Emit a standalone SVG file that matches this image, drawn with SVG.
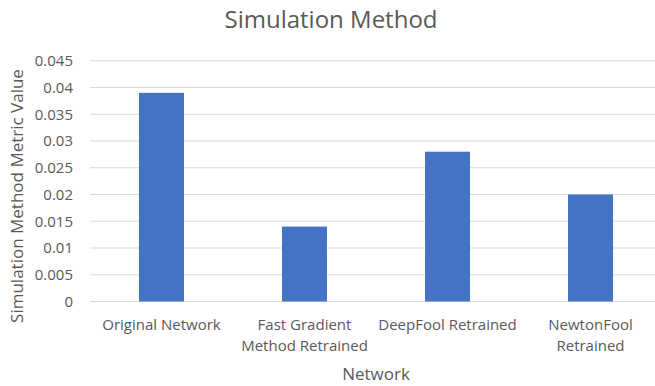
<svg xmlns="http://www.w3.org/2000/svg" width="655" height="386" viewBox="0 0 655 386">
  <style>
    text { font-family: "Open Sans", "Liberation Sans", sans-serif; fill: #595959; }
    .title { font-size: 24px; text-anchor: middle; }
    .tick { font-size: 15px; text-anchor: end; }
    .cat { font-size: 15px; text-anchor: middle; }
    .axt { font-size: 17px; text-anchor: middle; }
    .grid { stroke: #D9D9D9; stroke-width: 1; }
    .bar { fill: #4472C4; }
  </style>
  <rect width="655" height="386" fill="#FFFFFF"/>
  <text class="title" x="331" y="28">Simulation Method</text>
  <g id="gridlines">
    <line class="grid" x1="90" y1="60.75" x2="655" y2="60.75"/>
    <line class="grid" x1="90" y1="87.5" x2="655" y2="87.5"/>
    <line class="grid" x1="90" y1="114.25" x2="655" y2="114.25"/>
    <line class="grid" x1="90" y1="141" x2="655" y2="141"/>
    <line class="grid" x1="90" y1="167.75" x2="655" y2="167.75"/>
    <line class="grid" x1="90" y1="194.5" x2="655" y2="194.5"/>
    <line class="grid" x1="90" y1="221.25" x2="655" y2="221.25"/>
    <line class="grid" x1="90" y1="248" x2="655" y2="248"/>
    <line class="grid" x1="90" y1="274.75" x2="655" y2="274.75"/>
    <line class="grid" x1="90" y1="301.5" x2="655" y2="301.5"/>
  </g>
  <g id="y-ticks">
    <text class="tick" x="73" y="66">0.045</text>
    <text class="tick" x="73" y="92.8">0.04</text>
    <text class="tick" x="73" y="119.5">0.035</text>
    <text class="tick" x="73" y="146.3">0.03</text>
    <text class="tick" x="73" y="173">0.025</text>
    <text class="tick" x="73" y="199.8">0.02</text>
    <text class="tick" x="73" y="226.5">0.015</text>
    <text class="tick" x="73" y="253.3">0.01</text>
    <text class="tick" x="73" y="280">0.005</text>
    <text class="tick" x="73" y="306.8">0</text>
  </g>
  <g id="bar-original-network">
    <rect class="bar" x="139" y="92.85" width="45" height="208.65"/>
    <text class="cat" x="161.5" y="330">Original Network</text>
  </g>
  <g id="bar-fast-gradient">
    <rect class="bar" x="282" y="226.6" width="45" height="74.9"/>
    <text class="cat" x="304.5" y="330">Fast Gradient</text>
    <text class="cat" x="304.5" y="351">Method Retrained</text>
  </g>
  <g id="bar-deepfool">
    <rect class="bar" x="425" y="151.7" width="45" height="149.8"/>
    <text class="cat" x="447.5" y="330">DeepFool Retrained</text>
  </g>
  <g id="bar-newtonfool">
    <rect class="bar" x="568" y="194.5" width="45" height="107"/>
    <text class="cat" x="590.5" y="330">NewtonFool</text>
    <text class="cat" x="590.5" y="351">Retrained</text>
  </g>
  <g id="connectors"></g>
  <text class="axt" x="376" y="380">Network</text>
  <text class="axt" transform="translate(23,196) rotate(-90)">Simulation Method Metric Value</text>
</svg>
